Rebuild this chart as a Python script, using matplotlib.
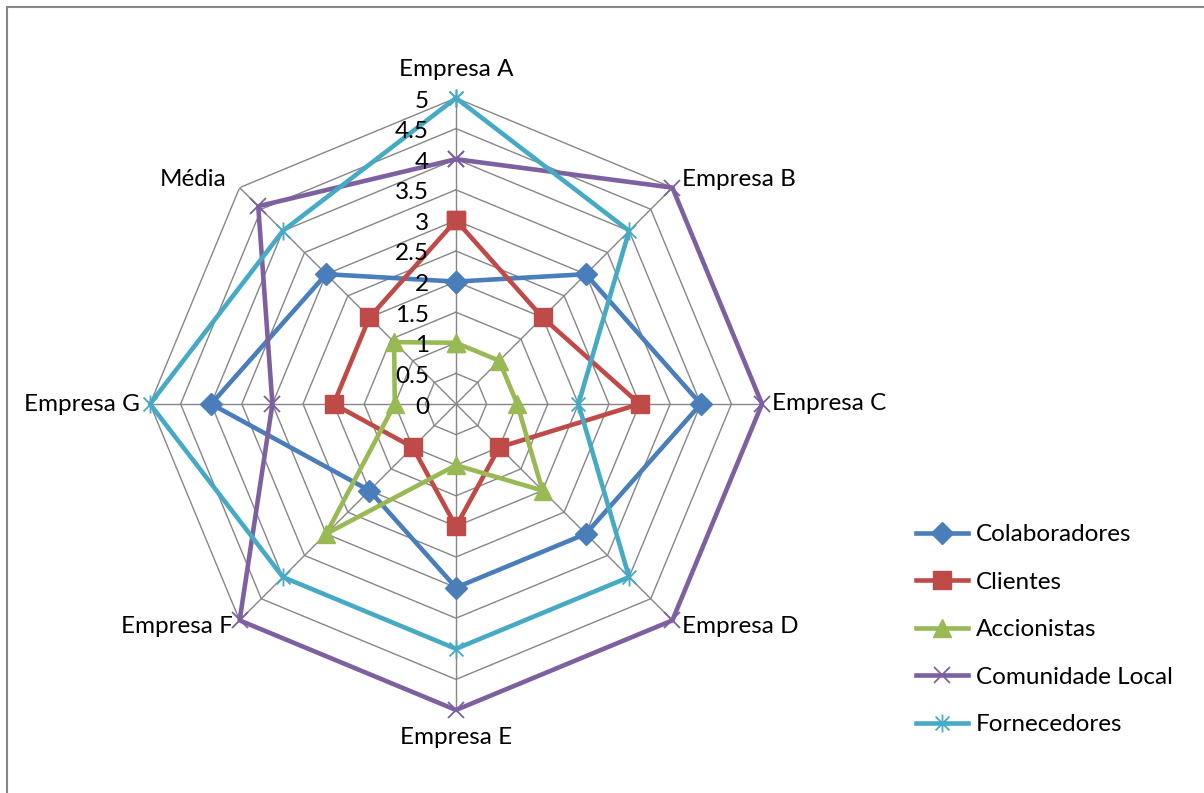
import numpy as np
import matplotlib
matplotlib.use('Agg')
import matplotlib.pyplot as plt
from matplotlib.path import Path
from matplotlib.patches import Rectangle

plt.rcParams['font.family'] = ['Lato', 'DejaVu Sans']

# categorias e valores
categorias = ['Empresa A', 'Empresa B', 'Empresa C', 'Empresa D',
              'Empresa E', 'Empresa F', 'Empresa G', 'Média']
colaboradores = [2, 3, 4, 3, 3, 2, 4, 3]
clientes = [3, 2, 3, 1, 2, 1, 2, 2]
accionistas = [1, 1, 1, 2, 1, 3, 1, 1.43]
comunidade = [4, 5, 5, 5, 5, 5, 3, 4.57]
fornecedores = [5, 4, 2, 4, 4, 4, 5, 4]
niveis = [0, 0.5, 1, 1.5, 2, 2.5, 3, 3.5, 4, 4.5, 5]
nomes = ['Colaboradores', 'Clientes', 'Accionistas', 'Comunidade Local', 'Fornecedores']

# marcador asterisco estilo Excel (x + linha vertical)
asterisco = Path([(-1, -1), (1, 1), (-1, 1), (1, -1), (0, -1.3), (0, 1.3)],
                 [Path.MOVETO, Path.LINETO, Path.MOVETO, Path.LINETO, Path.MOVETO, Path.LINETO])

series = [colaboradores, clientes, accionistas, comunidade, fornecedores]
cores = ['#4A7EBB', '#BE4B48', '#98B954', '#7D60A0', '#46AAC5']
marcadores = ['D', 's', '^', 'x', asterisco]
tamanhos = [11, 13, 13, 11, 13]

FS = 17.5
W, H = 1204, 793
fig = plt.figure(figsize=(W / 100, H / 100), dpi=100)
cx, cy, R = 456, 404, 306
ax = fig.add_axes([(cx - R) / W, (H - cy - R) / H, 2 * R / W, 2 * R / H], projection='polar')
ax.set_theta_offset(np.pi / 2)
ax.set_theta_direction(-1)
ax.set_ylim(0, 5)
ax.grid(False)
ax.spines['polar'].set_visible(False)
ax.set_xticks([])
ax.set_yticks([])
ax.patch.set_visible(False)

n = len(categorias)
ang = np.linspace(0, 2 * np.pi, n, endpoint=False)
ang_f = np.append(ang, ang[0])

# grelha octogonal
for nv in niveis[1:]:
    ax.plot(ang_f, [nv] * (n + 1), color='#868686', lw=1, zorder=1)
for a in ang:
    ax.plot([a, a], [0, 5], color='#868686', lw=1, zorder=1)

# rotulos radiais
for nv in niveis:
    ax.annotate('%g' % nv, xy=(0, nv), xytext=(-27, -3), textcoords='offset pixels',
                ha='right', va='center', fontsize=FS, zorder=5)

# rotulos das categorias
desloc = [(0, 29, 'center'), (10, 8, 'left'), (10, 0, 'left'), (10, -6, 'left'),
          (0, -28, 'center'), (-7, -6, 'right'), (-10, 0, 'right'), (-13, 8, 'right')]
for a, cat, (dx, dy, ha) in zip(ang, categorias, desloc):
    ax.annotate(cat, xy=(a, 5), xytext=(dx, dy), textcoords='offset pixels',
                ha=ha, va='center', fontsize=FS, annotation_clip=False)

for vals, cor, mk, ms, nome in zip(series, cores, marcadores, tamanhos, nomes):
    v = np.append(vals, vals[0])
    mew = 1.3 if mk == 'x' or mk is asterisco else 1
    ax.plot(ang_f, v, color=cor, lw=3.3, marker=mk, ms=ms, mfc=cor, mec=cor,
            mew=mew, label=nome, zorder=3, clip_on=False)

leg = fig.legend(loc='upper left', bbox_to_anchor=(916 / W, 1 - 524 / H),
                 frameon=False, fontsize=FS, handlelength=2.15, handletextpad=0.3,
                 labelspacing=1.09, borderpad=0, borderaxespad=0)

# moldura
fig.patches.append(Rectangle((7 / W, -0.05), 1.1, 1 - 7 / H + 0.05, transform=fig.transFigure,
                             fill=False, edgecolor='#868686', lw=1.5))

fig.savefig('out.png', dpi=100)
